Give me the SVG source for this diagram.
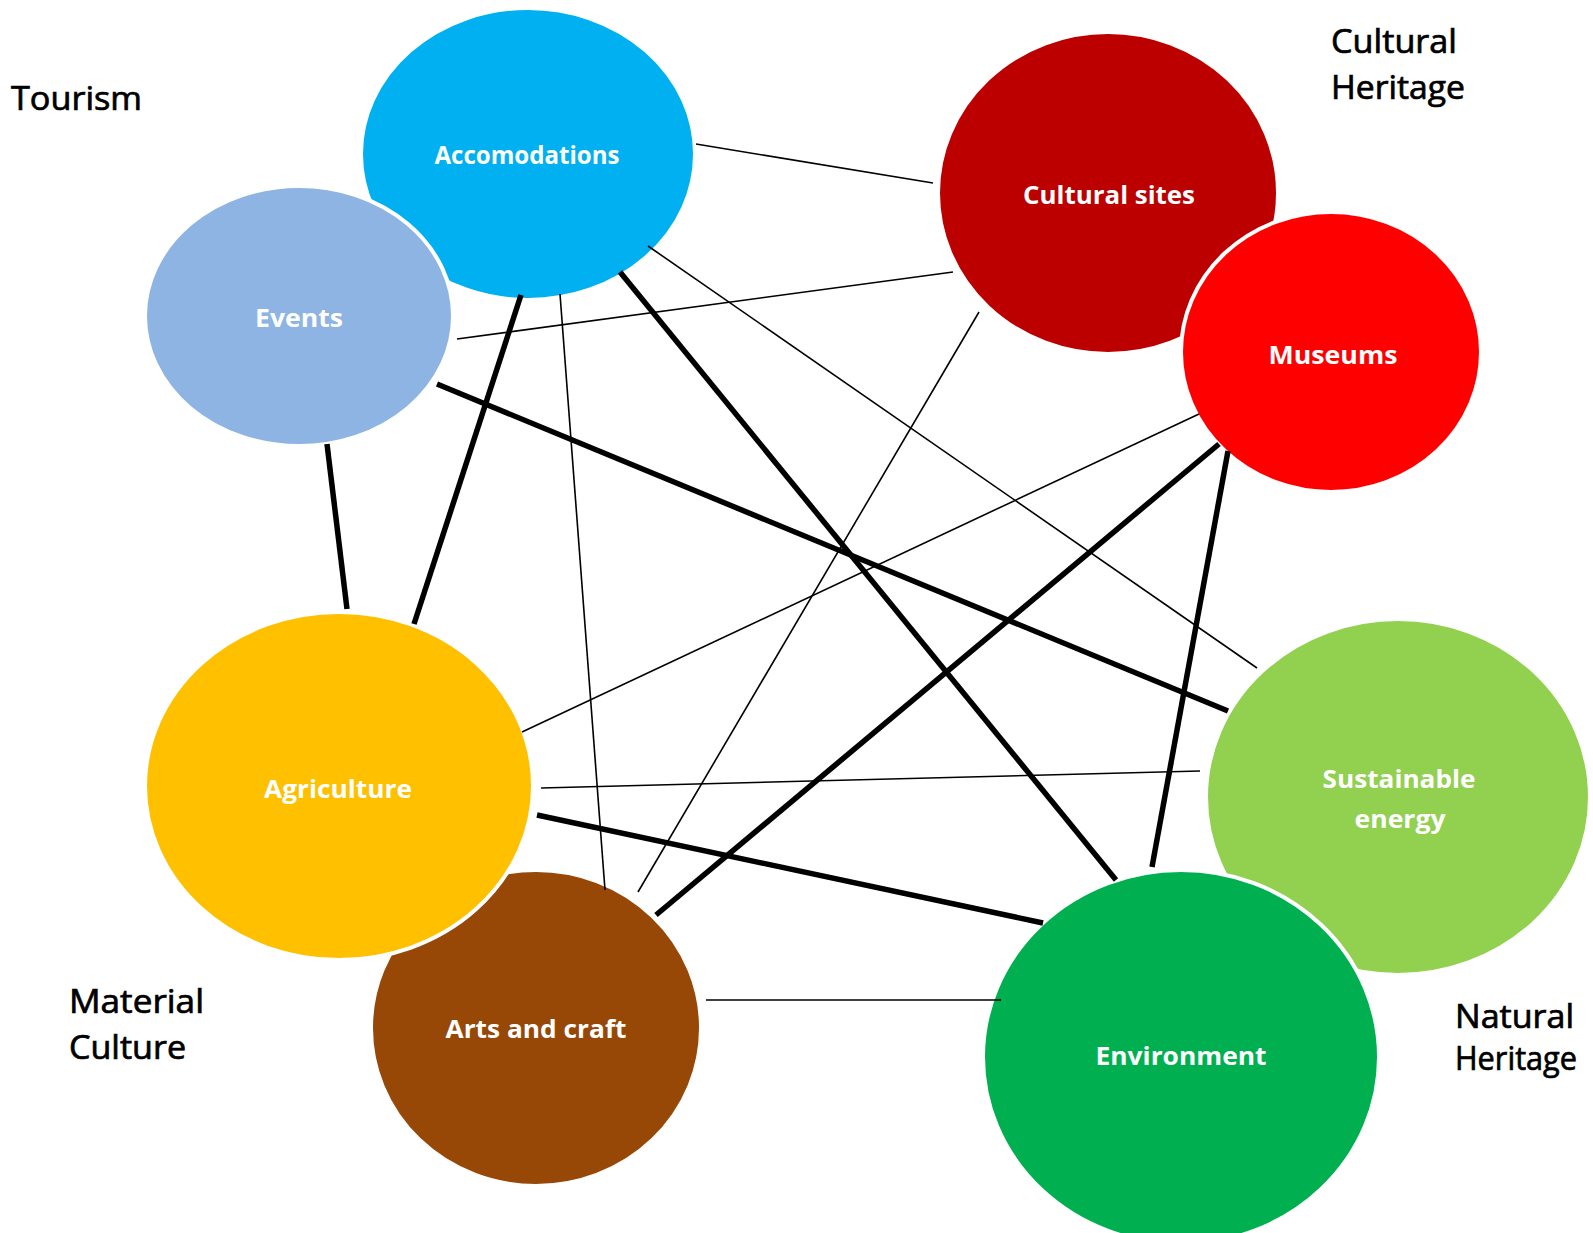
<svg xmlns="http://www.w3.org/2000/svg" width="1593" height="1233" viewBox="0 0 1593 1233">
<style>
.node ellipse{stroke:#ffffff;stroke-width:4}
.lbl{font-family:"Open Sans","Liberation Sans",sans-serif;font-weight:bold;font-size:25px;fill:#ffffff;text-anchor:middle}
.cat{font-family:"Open Sans","Liberation Sans",sans-serif;font-size:32px;fill:#000000;stroke:#000000;stroke-width:0.7}
.thin{stroke:#000000;stroke-width:1.6;fill:none}
.thick{stroke:#000000;stroke-width:5.5;fill:none}
</style>
<rect width="1593" height="1233" fill="#ffffff"/>
<g id="categories">
<text class="cat" x="11" y="110" textLength="131" lengthAdjust="spacingAndGlyphs">Tourism</text>
<text class="cat" x="1331" y="53" textLength="126" lengthAdjust="spacingAndGlyphs">Cultural</text>
<text class="cat" x="1331" y="99" textLength="134" lengthAdjust="spacingAndGlyphs">Heritage</text>
<text class="cat" x="69" y="1013" textLength="135" lengthAdjust="spacingAndGlyphs">Material</text>
<text class="cat" x="69" y="1059" textLength="117" lengthAdjust="spacingAndGlyphs">Culture</text>
<text class="cat" x="1455" y="1028" textLength="119" lengthAdjust="spacingAndGlyphs">Natural</text>
<text class="cat" x="1455" y="1070" textLength="122" lengthAdjust="spacingAndGlyphs">Heritage</text>
</g>
<g id="node-accomodations" class="node">
<ellipse cx="528" cy="154" rx="167" ry="146" fill="#00B0F0"/>
<text class="lbl" x="527" y="164" textLength="185" lengthAdjust="spacingAndGlyphs">Accomodations</text>
</g>
<g id="node-events" class="node">
<ellipse cx="299" cy="316" rx="154" ry="130" fill="#8EB4E3"/>
<text class="lbl" x="299" y="327" textLength="88" lengthAdjust="spacingAndGlyphs">Events</text>
</g>
<g id="node-cultural-sites" class="node">
<ellipse cx="1108" cy="193" rx="170" ry="161" fill="#BC0000"/>
<text class="lbl" x="1109" y="204" textLength="172" lengthAdjust="spacingAndGlyphs">Cultural sites</text>
</g>
<g id="node-museums" class="node">
<ellipse cx="1331" cy="352" rx="150" ry="140" fill="#FF0000"/>
<text class="lbl" x="1333" y="364" textLength="129" lengthAdjust="spacingAndGlyphs">Museums</text>
</g>
<g id="node-arts" class="node">
<ellipse cx="536" cy="1028" rx="165" ry="158" fill="#974706"/>
<text class="lbl" x="536" y="1038" textLength="181" lengthAdjust="spacingAndGlyphs">Arts and craft</text>
</g>
<g id="node-agriculture" class="node">
<ellipse cx="339" cy="786" rx="194" ry="174" fill="#FFC000"/>
<text class="lbl" x="338" y="798" textLength="148" lengthAdjust="spacingAndGlyphs">Agriculture</text>
</g>
<g id="node-sustainable" class="node">
<ellipse cx="1398" cy="797" rx="192" ry="178" fill="#92D050"/>
<text class="lbl" x="1399" y="788" textLength="153" lengthAdjust="spacingAndGlyphs">Sustainable</text>
<text class="lbl" x="1400" y="828" textLength="91" lengthAdjust="spacingAndGlyphs">energy</text>
</g>
<g id="node-environment" class="node">
<ellipse cx="1181" cy="1057" rx="198" ry="187" fill="#00B050"/>
<text class="lbl" x="1181" y="1065" textLength="171" lengthAdjust="spacingAndGlyphs">Environment</text>
</g>
<g id="connectors">
<line class="thin" x1="696" y1="144" x2="933" y2="183"/>
<line class="thin" x1="457" y1="339" x2="953" y2="272"/>
<line class="thin" x1="648" y1="246" x2="1257" y2="668"/>
<line class="thick" x1="437" y1="384" x2="1228" y2="711"/>
<line class="thick" x1="620" y1="272" x2="1116" y2="880"/>
<line class="thick" x1="521" y1="295" x2="414" y2="624"/>
<line class="thin" x1="560" y1="294" x2="605" y2="890"/>
<line class="thick" x1="327" y1="444" x2="347" y2="609"/>
<line class="thin" x1="979" y1="312" x2="638" y2="892"/>
<line class="thin" x1="1199" y1="414" x2="522" y2="732"/>
<line class="thick" x1="1219" y1="444" x2="656" y2="915"/>
<line class="thick" x1="1228" y1="451" x2="1152" y2="867"/>
<line class="thin" x1="541" y1="788" x2="1200" y2="771"/>
<line class="thick" x1="537" y1="815" x2="1043" y2="923"/>
<line class="thin" x1="706" y1="1000" x2="1001" y2="1000"/>
</g>
</svg>
